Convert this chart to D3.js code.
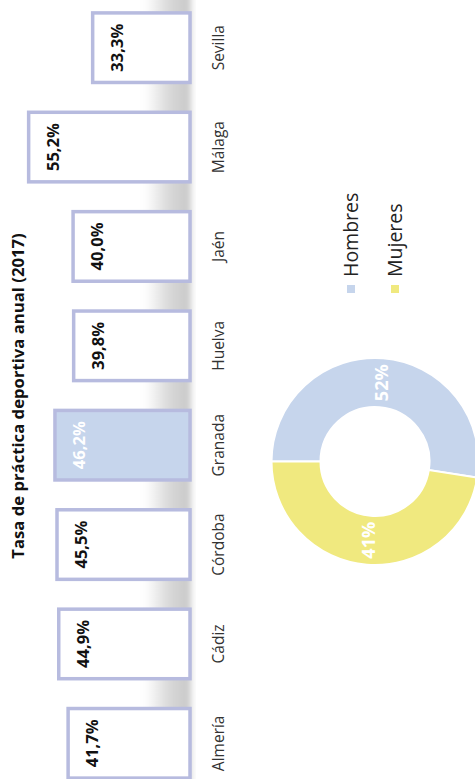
<!DOCTYPE html>
<html>
<head>
<meta charset="utf-8">
<script src="https://cdn.jsdelivr.net/npm/d3@7"></script>
<style>
  body { margin: 0; background: #fff; }
  svg { display: block; font-family: "Open Sans", sans-serif; }
</style>
</head>
<body>
<svg id="chart" width="475" height="779"></svg>
<script>
var provincias = ["Almería", "Cádiz", "Córdoba", "Granada", "Huelva", "Jaén", "Málaga", "Sevilla"];
var tasas = [41.7, 44.9, 45.5, 46.2, 39.8, 40.0, 55.2, 33.3];
var destacada = "Granada";

var sexos = ["Hombres", "Mujeres"];
var sexoShare = [52.5, 47.5];          // arc sizes as drawn
var sexoEtiquetas = ["52%", "41%"];
var sexoColores = ["#c6d5ec", "#f0e97f"];

var titulo = "Tasa de práctica deportiva anual (2017)";

// chart drawn in its own frame (779 x 475), then turned a quarter left
var W = 779, H = 475;
var svg = d3.select("#chart");
var defs = svg.append("defs");

var grad = defs.append("linearGradient")
    .attr("id", "floor")
    .attr("x1", 0).attr("y1", 0).attr("x2", 0).attr("y2", 1);
grad.append("stop").attr("offset", "0%").attr("stop-color", "#c4c4c4").attr("stop-opacity", 0);
grad.append("stop").attr("offset", "55%").attr("stop-color", "#c6c6c6").attr("stop-opacity", 0.7);
grad.append("stop").attr("offset", "100%").attr("stop-color", "#c8c8c8").attr("stop-opacity", 1);

defs.append("filter").attr("id", "blur")
    .append("feGaussianBlur").attr("stdDeviation", 3);

var g = svg.append("g")
    .attr("transform", "translate(0," + W + ") rotate(-90)");

var x = d3.scaleBand()
    .domain(provincias)
    .range([-14, 781])
    .paddingInner(0.3)
    .paddingOuter(0.15);

var y = d3.scaleLinear()
    .domain([0, 65])
    .range([190, 0]);

g.append("text")
    .attr("x", 383)
    .attr("y", 24)
    .attr("text-anchor", "middle")
    .attr("font-size", 16.7)
    .attr("font-weight", "bold")
    .attr("fill", "#111")
    .text(titulo);

// soft grey floor behind the bars
g.append("rect")
    .attr("x", -20)
    .attr("y", 145)
    .attr("width", W + 40)
    .attr("height", 46)
    .attr("fill", "url(#floor)")
    .attr("filter", "url(#blur)");

var datos = provincias.map((p, i) => ({ provincia: p, tasa: tasas[i] }));

var barras = g.selectAll(".barra")
    .data(datos)
    .enter()
    .append("g")
    .classed("barra", true);

barras.append("rect")
    .attr("x", d => x(d.provincia))
    .attr("y", d => y(d.tasa))
    .attr("width", x.bandwidth())
    .attr("height", d => y(0) - y(d.tasa))
    .attr("fill", d => d.provincia === destacada ? "#c6d5ec" : "#fff")
    .attr("stroke", "#b7bbdf")
    .attr("stroke-width", 3.5);

barras.append("text")
    .attr("x", d => x(d.provincia) + x.bandwidth() / 2)
    .attr("y", d => y(d.tasa) + 30)
    .attr("text-anchor", "middle")
    .attr("font-size", 16.5)
    .attr("font-weight", "bold")
    .attr("fill", d => d.provincia === destacada ? "#fff" : "#111")
    .text(d => d.tasa.toFixed(1).replace(".", ",") + "%");

barras.append("text")
    .attr("x", d => x(d.provincia) + x.bandwidth() / 2)
    .attr("y", 224)
    .attr("text-anchor", "middle")
    .attr("font-size", 15.5)
    .attr("fill", "#333")
    .text(d => d.provincia);

// donut
var pie = d3.pie().sort(null).value(d => d.share);
var arc = d3.arc().innerRadius(54.5).outerRadius(103.5);

var sexoDatos = sexos.map((s, i) => ({ sexo: s, share: sexoShare[i], etiqueta: sexoEtiquetas[i], color: sexoColores[i] }));

var donut = g.append("g")
    .attr("transform", "translate(317.5,375)");

donut.selectAll(".arc")
    .data(pie(sexoDatos))
    .enter()
    .append("path")
    .classed("arc", true)
    .attr("d", arc)
    .attr("fill", d => d.data.color)
    .attr("stroke", "#fff")
    .attr("stroke-width", 2);

donut.selectAll(".arc-label")
    .data(pie(sexoDatos))
    .enter()
    .append("text")
    .attr("transform", d => "translate(" + arc.centroid(d) + ")")
    .attr("dy", "0.35em")
    .attr("text-anchor", "middle")
    .attr("font-size", 18)
    .attr("font-weight", "bold")
    .attr("fill", "#fff")
    .text(d => d.data.etiqueta);

// legend
var legend = g.selectAll(".leyenda")
    .data(sexoDatos)
    .enter()
    .append("g")
    .classed("leyenda", true)
    .attr("transform", (d, i) => "translate(486," + (347 + i * 44) + ")");

legend.append("rect")
    .attr("width", 8)
    .attr("height", 8)
    .attr("fill", d => d.color);

legend.append("text")
    .attr("x", 16)
    .attr("y", 11)
    .attr("font-size", 19.5)
    .attr("fill", "#222")
    .text(d => d.sexo);
</script>
</body>
</html>
